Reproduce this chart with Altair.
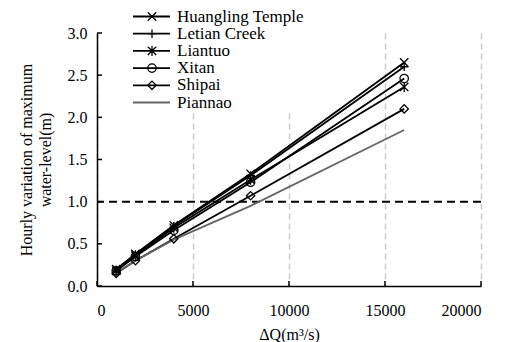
import altair as alt
import pandas as pd

# ---------------- data ----------------
flow = [1000, 2000, 4000, 8000, 16000]
series = ["Huangling Temple", "Letian Creek", "Liantuo", "Xitan", "Shipai", "Piannao"]
huangling = [0.20, 0.38, 0.72, 1.33, 2.65]
letian = [0.19, 0.37, 0.71, 1.31, 2.60]
liantuo = [0.18, 0.36, 0.69, 1.26, 2.36]
xitan = [0.18, 0.35, 0.66, 1.23, 2.46]
shipai = [0.15, 0.30, 0.56, 1.07, 2.10]
piannao = [0.16, 0.30, 0.55, 0.95, 1.85]
threshold = [1.0]
x_ticks = [0, 5000, 10000, 15000, 20000]
y_ticks = [0.0, 0.5, 1.0, 1.5, 2.0, 2.5, 3.0]

rows = []
for name, vals in zip(series, [huangling, letian, liantuo, xitan, shipai, piannao]):
    for q, v in zip(flow, vals):
        rows.append({"name": name, "q": q, "v": v})
df = pd.DataFrame(rows)

FONT = "Liberation Serif"
W, H = 384, 253

X_PATH = "M-1,-1L1,1M-1,1L1,-1"
PLUS_PATH = "M-1,0L1,0M0,-1L0,1"
STAR_PATH = "M-1,-1L1,1M-1,1L1,-1M0,-1.2L0,1.2"

x_scale = alt.Scale(domain=[0, 20000], nice=False)
y_scale = alt.Scale(domain=[0, 3], nice=False)
color_scale = alt.Scale(domain=series, range=["black"] * 5 + ["#666666"])
shape_scale = alt.Scale(domain=series[:5], range=[X_PATH, PLUS_PATH, STAR_PATH, "circle", "diamond"])

x_axis = alt.Axis(values=x_ticks, format="d", title="ΔQ(m³/s)", grid=True,
                  gridDash=[6, 4], gridColor="#cccccc", gridWidth=1.5, ticks=False,
                  domainColor="black", domainWidth=1.5, labelFont=FONT, labelFontSize=16,
                  labelColor="black", titleFont=FONT, titleFontSize=16,
                  titleFontWeight="normal", titleColor="black", labelPadding=16,
                  titlePadding=8)
y_axis = alt.Axis(values=y_ticks, format=".1f",
                  title=["Hourly variation of maximum", "water-level(m)"], grid=False,
                  ticks=False, domainColor="black", domainWidth=1.5, labelFont=FONT,
                  labelFontSize=16, labelColor="black", titleFont=FONT, titleFontSize=16,
                  titleFontWeight="normal", titleColor="black", labelPadding=10,
                  titlePadding=14, titleLineHeight=19)

base = alt.Chart(df)
lines = base.mark_line(strokeWidth=1.8).encode(
    x=alt.X("q:Q", scale=x_scale, axis=x_axis),
    y=alt.Y("v:Q", scale=y_scale, axis=y_axis),
    color=alt.Color("name:N", scale=color_scale, legend=None),
    detail="name:N",
)
points = base.transform_filter(
    alt.FieldOneOfPredicate(field="name", oneOf=series[:5])
).mark_point(filled=False, size=70, strokeWidth=1.3, color="black", opacity=1).encode(
    x=alt.X("q:Q", scale=x_scale),
    y=alt.Y("v:Q", scale=y_scale),
    shape=alt.Shape("name:N", scale=shape_scale, legend=None),
)
thr = alt.Chart(pd.DataFrame({"v": threshold})).mark_rule(
    color="black", strokeDash=[8, 5], strokeWidth=2
).encode(y=alt.Y("v:Q", scale=y_scale))

xt = alt.Chart(pd.DataFrame({"q": x_ticks})).mark_rule(color="black", strokeWidth=1.5).encode(
    x=alt.X("q:Q", scale=x_scale), y=alt.value(H), y2=alt.value(H - 5))
yt = alt.Chart(pd.DataFrame({"v": y_ticks})).mark_rule(color="black", strokeWidth=1.5).encode(
    y=alt.Y("v:Q", scale=y_scale), x=alt.value(0), x2=alt.value(5))

box = alt.Chart(pd.DataFrame({"a": [0]})).mark_rect(fill="white", stroke=None).encode(
    x=alt.value(30), x2=alt.value(215), y=alt.value(-30), y2=alt.value(77))

main = alt.layer(box, thr, lines, points, xt, yt)

# ---------------- legend ----------------
leg_df = pd.DataFrame({"name": series})
leg_y = alt.Y("name:N", scale=alt.Scale(type="point", domain=series, range=[-16.5, 69.5], padding=0),
              axis=None)
leg_rule = alt.Chart(leg_df).mark_rule(strokeWidth=1.8).encode(
    x=alt.value(36), x2=alt.value(73), y=leg_y,
    color=alt.Color("name:N", scale=color_scale, legend=None))
leg_pt = alt.Chart(leg_df).transform_filter(
    alt.FieldOneOfPredicate(field="name", oneOf=series[:5])
).mark_point(filled=False, size=70, strokeWidth=1.3, color="black", opacity=1).encode(
    x=alt.value(55), y=leg_y, shape=alt.Shape("name:N", scale=shape_scale, legend=None))
leg_txt = alt.Chart(leg_df).mark_text(align="left", baseline="middle", font=FONT,
                                      fontSize=17, color="black").encode(
    x=alt.value(80), y=leg_y, text="name:N")
legend = alt.layer(leg_rule, leg_pt, leg_txt)

chart = alt.layer(main, legend).resolve_scale(y="independent").properties(
    width=W, height=H,
    autosize=alt.AutoSizeParams(type="none"),
    padding={"left": 89, "top": 25, "right": 16, "bottom": 60},
).configure(background="white", font=FONT).configure_view(stroke=None).configure_axis(
    labelFont=FONT, titleFont=FONT).configure_text(font=FONT)

chart.save("out.html", embed_options={"renderer": "svg", "actions": False})
